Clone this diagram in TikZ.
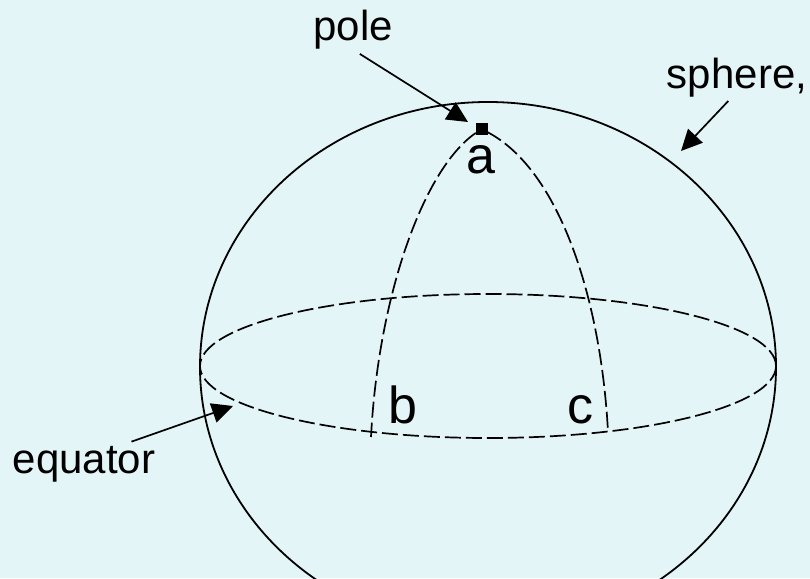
\documentclass[tikz,border=0pt]{standalone}
\usepackage{fontspec}
\setmainfont{Liberation Sans}
\usetikzlibrary{arrows.meta}
\definecolor{paleblue}{HTML}{E4F5F8}
\tikzset{
	labeltext/.style={font=\fontsize{42}{50}\selectfont, inner sep=4pt, anchor=base},
	pointtext/.style={font=\fontsize{52}{60}\selectfont, inner sep=0pt, anchor=base},
	pointer/.style={line width=1.7pt, -{Triangle[length=21pt,width=20pt]}},
	outline/.style={line width=1.8pt},
	hidden/.style={line width=1.7pt, dash pattern=on 16pt off 5pt}
}

\begin{document}
\begin{tikzpicture}[x=1pt, y=-1pt]
  \useasboundingbox (0,0) rectangle (810,578);
  \clip (0,0) rectangle (810,578);
  \fill[paleblue] (0,0) rectangle (810,578);
  \draw[outline] (488,367) ellipse [x radius=288, y radius=265];
  \draw[hidden] (488,366) ellipse [x radius=288, y radius=72];
  \node[draw, fill, inner sep=0pt, minimum size=11pt] (a) at (481.5,129) {};
  \coordinate (b) at (371,437);
  \coordinate (c) at (608,432);
  \draw[hidden] (a) .. controls (422,170) and (378,300) .. (b);
  \draw[hidden] (a) .. controls (560,170) and (601,300) .. (c);
  \node[pointtext] (alabel) at (481,173) {a};
  \node[pointtext] (blabel) at (403,423) {b};
  \node[pointtext] (clabel) at (580,423) {c};
  \node[labeltext] (pole) at (353,41) {pole};
  \node[labeltext] (sphere) at (737,88) {sphere,};
  \node[labeltext] (equator) at (84,473) {equator};
  \coordinate (poletip) at (468,122);
  \coordinate (spheretip) at (681,151);
  \coordinate (equatortip) at (233,406);
  \draw[pointer] (pole.-74) -- (poletip);
  \draw[pointer] (sphere.-110) -- (spheretip);
  \draw[pointer] (equator.25) -- (equatortip);
\end{tikzpicture}
\end{document}
